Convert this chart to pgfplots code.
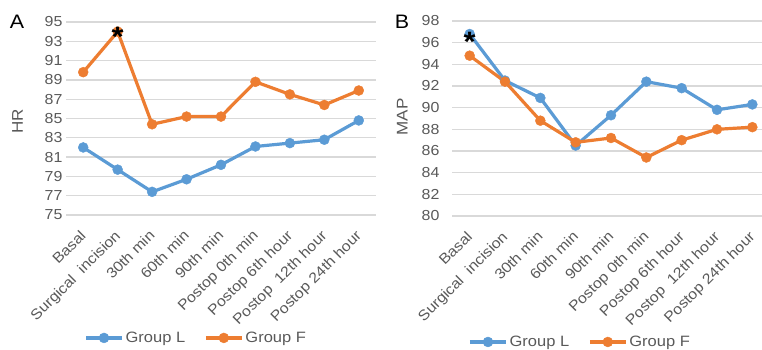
\documentclass[border=0pt]{standalone}
\usepackage{pgfplots}
\pgfplotsset{compat=1.18}
\usepackage{fontspec}
\setmainfont[FakeStretch=1.1]{Liberation Sans}
\definecolor{gl}{HTML}{5B9BD5}
\definecolor{gf}{HTML}{ED7D31}
\definecolor{gridc}{HTML}{D9D9D9}
\definecolor{txt}{HTML}{595959}
\pgfplotsset{
 mystyle/.style={
  scale only axis,
  clip=false,
  xmin=-0.5, xmax=8.5,
  xtick={0,...,8},
  xticklabels={Basal, Surgical\ \ incision, 30th min, 60th min, 90th min, Postop 0th min, Postop 6th hour, Postop\ \ 12th hour, Postop 24th hour},
  axis line style={draw=none},
  major tick length=0pt,
  ymajorgrids, grid style={gridc, line width=1.3pt},
  tick label style={text=txt, font=\fontsize{14.5}{17}\selectfont},
  x tick label style={xshift=-4pt, yshift=-14pt, rotate=45, anchor=north east, inner sep=0pt},
  /pgf/number format/assume math mode=true,
  legend columns=2,
  legend style={draw=none, fill=none, text=txt, font=\fontsize{15}{18}\selectfont, anchor=center,
    nodes={inner xsep=2pt},
    column sep=0pt,
    /tikz/column 2/.style={column sep=17pt}},
  legend image code/.code={\draw[##1, mark repeat=2, mark phase=2] plot coordinates {(0pt,0pt)(18pt,0pt)(36pt,0pt)};},
 },
 gL/.style={gl, line width=3.2pt, mark=*, mark size=5pt, mark options={line width=0.4pt}},
 gF/.style={gf, line width=3.2pt, mark=*, mark size=5pt, mark options={line width=0.4pt}},
}
\begin{document}
\begin{tikzpicture}
\path[use as bounding box] (0pt,0pt) rectangle (762pt,350pt);
% Panel A
\begin{axis}[mystyle, at={(66pt,135pt)}, anchor=south west, width=310pt, height=193pt,
  ymin=75, ymax=95, ytick={75,77,...,95},
  ylabel={HR}, every axis y label/.style={at={(axis description cs:-0.156,0.487)}, rotate=90, anchor=center, text=txt, font=\fontsize{15.5}{18}\selectfont},
  legend style={at={(axis description cs:0.42,-0.637)}},
  after end axis/.code={
    \node[font=\fontsize{28}{30}\selectfont\bfseries, inner sep=0pt, text=black] at (axis cs:1,93.5) {*};
    \node[font=\fontsize{19.5}{22}\selectfont, anchor=center, text=black] at (axis description cs:-0.158,1.0) {A};
  }]
\addplot[gL] coordinates {(0,82.0)(1,79.7)(2,77.4)(3,78.7)(4,80.2)(5,82.1)(6,82.45)(7,82.8)(8,84.8)};
\addplot[gF] coordinates {(0,89.8)(1,94.0)(2,84.4)(3,85.2)(4,85.2)(5,88.8)(6,87.5)(7,86.4)(8,87.9)};
\legend{Group L, Group F}
\end{axis}
% Panel B
\begin{axis}[mystyle, at={(452pt,134pt)}, anchor=south west, width=318pt, height=195pt,
  ymin=80, ymax=98, ytick={80,82,...,98},
  y tick label style={xshift=-9pt},
  ylabel={MAP}, every axis y label/.style={at={(axis description cs:-0.156,0.508)}, rotate=90, anchor=center, text=txt, font=\fontsize{15.5}{18}\selectfont},
  legend style={at={(axis description cs:0.403,-0.646)}},
  after end axis/.code={
    \node[font=\fontsize{28}{30}\selectfont\bfseries, inner sep=0pt, text=black] at (axis cs:0,96.1) {*};
    \node[font=\fontsize{19.5}{22}\selectfont, anchor=center, text=black] at (axis description cs:-0.157,0.995) {B};
  }]
\addplot[gL] coordinates {(0,96.8)(1,92.5)(2,90.9)(3,86.5)(4,89.3)(5,92.4)(6,91.8)(7,89.8)(8,90.3)};
\addplot[gF] coordinates {(0,94.8)(1,92.4)(2,88.8)(3,86.8)(4,87.2)(5,85.4)(6,87.0)(7,88.0)(8,88.2)};
\legend{Group L, Group F}
\end{axis}
\end{tikzpicture}
\end{document}
